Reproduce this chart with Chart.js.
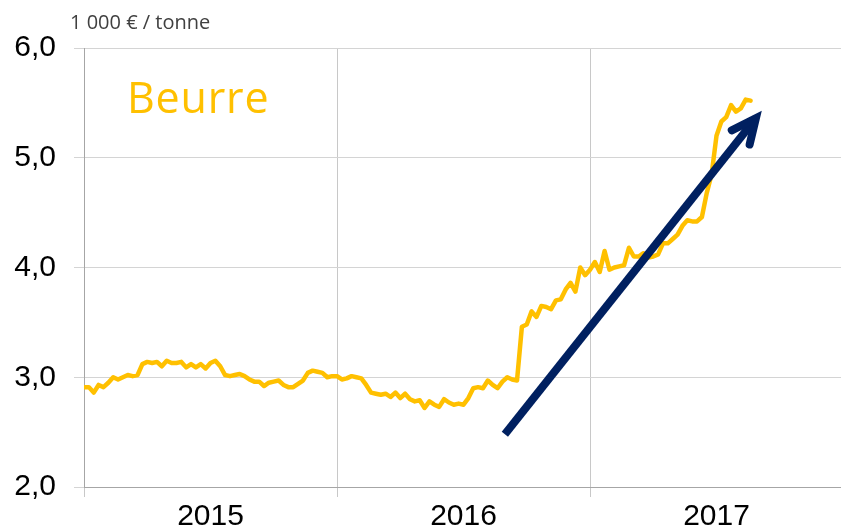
<!DOCTYPE html>
<html>
<head>
<meta charset="utf-8">
<script src="https://cdn.jsdelivr.net/npm/chart.js@4/dist/chart.umd.min.js"></script>
<style>
  html, body { margin: 0; padding: 0; background: #ffffff; }
  #wrap { position: relative; width: 841px; height: 530px; overflow: hidden; }
  #c { position: absolute; left: 0; top: 0; }
  .unit { position: absolute; left: 70px; top: 12px; font: 20px "Open Sans", sans-serif; line-height: 20px; color: #404040; white-space: pre; }
  .product { position: absolute; left: 127px; top: 75px; font: 43px "Open Sans", sans-serif; line-height: 43px; letter-spacing: 0.8px; color: #FFC000; }
</style>
</head>
<body>
<div id="wrap">
  <canvas id="c" width="850" height="530"></canvas>
  <div class="unit">1 000 € / tonne</div>
  <div class="product">Beurre</div>
</div>
<script>
// ---- data ----
const years = ['2015', '2016', '2017'];
const yTickValues = [2, 3, 4, 5, 6];
const weeksPerYear = 52;
// weekly butter price, 1 000 € / tonne, from first week of 2015
const butterPrices = [
  2.91, 2.91, 2.86, 2.93, 2.91, 2.95, 3.00, 2.98, 3.00, 3.02, 3.01, 3.02, 3.12,
  3.14, 3.13, 3.14, 3.10, 3.15, 3.13, 3.13, 3.14, 3.09, 3.12, 3.09, 3.12, 3.08,
  3.13, 3.15, 3.10, 3.02, 3.01, 3.02, 3.03, 3.01, 2.98, 2.96, 2.96, 2.92, 2.95,
  2.96, 2.97, 2.93, 2.91, 2.91, 2.94, 2.97, 3.04, 3.06, 3.05, 3.04, 3.00, 3.01,
  3.01, 2.98, 2.99, 3.01, 3.00, 2.99, 2.93, 2.86, 2.85, 2.84, 2.85, 2.82, 2.86,
  2.81, 2.85, 2.80, 2.78, 2.79, 2.72, 2.78, 2.75, 2.73, 2.80, 2.77, 2.75, 2.76,
  2.75, 2.81, 2.90, 2.91, 2.90, 2.97, 2.93, 2.90, 2.96, 3.00, 2.98, 2.97, 3.46,
  3.48, 3.60, 3.55, 3.65, 3.64, 3.62, 3.70, 3.71, 3.80, 3.86, 3.78, 4.00, 3.93,
  3.98, 4.05, 3.96, 4.15, 3.98, 4.00, 4.01, 4.02, 4.18, 4.10, 4.10, 4.13, 4.09,
  4.10, 4.12, 4.22, 4.22, 4.26, 4.30, 4.38, 4.43, 4.42, 4.42, 4.46, 4.68, 4.85,
  5.20, 5.33, 5.37, 5.48, 5.42, 5.45, 5.53, 5.52
];
// trend arrow, in (week index, price) units
const arrowFrom = [86.5, 2.48];
const arrowTo = [138.1, 5.36];

// ---- chart ----
const arrowHeadPlugin = {
  id: 'arrowHead',
  afterDatasetsDraw(chart) {
    const xs = chart.scales.x, ys = chart.scales.y;
    const x0 = xs.getPixelForValue(arrowFrom[0]), y0 = ys.getPixelForValue(arrowFrom[1]);
    const x1 = xs.getPixelForValue(arrowTo[0]), y1 = ys.getPixelForValue(arrowTo[1]);
    const back = Math.atan2(y0 - y1, x0 - x1);
    const len = 27, spread = 25 * Math.PI / 180;
    const ctx = chart.ctx;
    ctx.save();
    ctx.strokeStyle = '#002060';
    ctx.lineWidth = 8;
    ctx.lineCap = 'round';
    ctx.lineJoin = 'miter';
    ctx.beginPath();
    ctx.moveTo(x1 + len * Math.cos(back + spread), y1 + len * Math.sin(back + spread));
    ctx.lineTo(x1, y1);
    ctx.lineTo(x1 + len * Math.cos(back - spread), y1 + len * Math.sin(back - spread));
    ctx.stroke();
    ctx.restore();
  }
};

new Chart(document.getElementById('c'), {
  type: 'line',
  data: {
    datasets: [
      {
        label: 'Tendance',
        data: [{ x: arrowFrom[0], y: arrowFrom[1] }, { x: arrowTo[0], y: arrowTo[1] }],
        borderColor: '#002060',
        borderWidth: 8,
        borderCapStyle: 'butt',
        pointRadius: 0,
        xAxisID: 'x', yAxisID: 'y',
        order: 0
      },
      {
        label: 'Beurre',
        data: butterPrices.map((v, i) => ({ x: i, y: v })),
        borderColor: '#FFC000',
        borderWidth: 4.5,
        borderJoinStyle: 'round',
        borderCapStyle: 'round',
        tension: 0,
        pointRadius: 0,
        xAxisID: 'x', yAxisID: 'y',
        order: 1
      }
    ]
  },
  options: {
    responsive: false,
    devicePixelRatio: 1,
    animation: false,
    layout: { padding: { top: 48, right: 7, left: 0, bottom: 0 } },
    plugins: { legend: { display: false }, tooltip: { enabled: false } },
    scales: {
      x: {
        type: 'linear',
        display: false,
        min: 0,
        max: weeksPerYear * years.length
      },
      years: {
        type: 'category',
        position: 'bottom',
        labels: years,
        offset: true,
        grid: { display: true, offset: true, color: '#c8c8c8', lineWidth: 1, tickLength: 10, drawTicks: true },
        border: { display: true, color: '#a6a6a6', width: 1 },
        ticks: { color: '#000000', font: { family: 'Liberation Sans, Arial, sans-serif', size: 30 }, padding: 2, maxRotation: 0, autoSkip: false },
        afterFit(scale) { scale.height = 43; }
      },
      y: {
        type: 'linear',
        min: 2,
        max: 6,
        afterBuildTicks(scale) { scale.ticks = yTickValues.map(v => ({ value: v })); },
        grid: { color: '#d4d4d4', lineWidth: 1, tickLength: 10, drawTicks: true },
        border: { display: true, color: '#a6a6a6', width: 1 },
        ticks: {
          color: '#000000',
          font: { family: 'Liberation Sans, Arial, sans-serif', size: 30 },
          padding: 18,
          callback: v => v.toFixed(1).replace('.', ',')
        },
        afterFit(scale) { scale.width = 84; }
      }
    }
  },
  plugins: [arrowHeadPlugin]
});
</script>
</body>
</html>
